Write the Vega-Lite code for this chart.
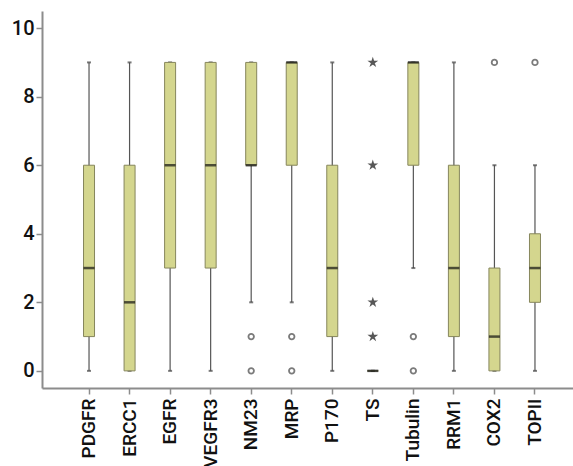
{
  "$schema": "https://vega.github.io/schema/vega-lite/v6.json",
  "width": 540,
  "height": 377,
  "autosize": {"type": "none"},
  "padding": {"left": 42, "top": 11, "right": 0, "bottom": 78},
  "background": "white",
  "config": {
    "view": {"stroke": null},
    "font": "Roboto",
    "axis": {"grid": false, "domainColor": "#8c8c8c", "domainWidth": 2, "tickColor": "#8c8c8c", "tickWidth": 1.5, "labelColor": "#111", "title": null}
  },
  "datasets": {
    "stats": [
      {"marker": "PDGFR", "min": 0, "q1": 1, "median": 3, "q3": 6, "max": 9},
      {"marker": "ERCC1", "min": 0, "q1": 0, "median": 2, "q3": 6, "max": 9},
      {"marker": "EGFR", "min": 0, "q1": 3, "median": 6, "q3": 9, "max": 9},
      {"marker": "VEGFR3", "min": 0, "q1": 3, "median": 6, "q3": 9, "max": 9},
      {"marker": "NM23", "min": 2, "q1": 6, "median": 6, "q3": 9, "max": 9},
      {"marker": "MRP", "min": 2, "q1": 6, "median": 9, "q3": 9, "max": 9},
      {"marker": "P170", "min": 0, "q1": 1, "median": 3, "q3": 6, "max": 9},
      {"marker": "TS", "min": 0, "q1": 0, "median": 0, "q3": 0, "max": 0},
      {"marker": "Tubulin", "min": 3, "q1": 6, "median": 9, "q3": 9, "max": 9},
      {"marker": "RRM1", "min": 0, "q1": 1, "median": 3, "q3": 6, "max": 9},
      {"marker": "COX2", "min": 0, "q1": 0, "median": 1, "q3": 3, "max": 6},
      {"marker": "TOPII", "min": 0, "q1": 2, "median": 3, "q3": 4, "max": 6}
    ],
    "outliers": [
      {"marker": "NM23", "value": 1, "kind": "outlier"},
      {"marker": "NM23", "value": 0, "kind": "outlier"},
      {"marker": "MRP", "value": 1, "kind": "outlier"},
      {"marker": "MRP", "value": 0, "kind": "outlier"},
      {"marker": "TS", "value": 9, "kind": "extreme"},
      {"marker": "TS", "value": 6, "kind": "extreme"},
      {"marker": "TS", "value": 2, "kind": "extreme"},
      {"marker": "TS", "value": 1, "kind": "extreme"},
      {"marker": "Tubulin", "value": 1, "kind": "outlier"},
      {"marker": "Tubulin", "value": 0, "kind": "outlier"},
      {"marker": "COX2", "value": 9, "kind": "outlier"},
      {"marker": "TOPII", "value": 9, "kind": "outlier"}
    ]
  },
  "encoding": {
    "x": {
      "field": "marker", "type": "nominal",
      "sort": ["PDGFR", "ERCC1", "EGFR", "VEGFR3", "NM23", "MRP", "P170", "TS", "Tubulin", "RRM1", "COX2", "TOPII"],
      "scale": {"paddingInner": 0, "paddingOuter": 0.66},
      "axis": {"labelAngle": -90, "labelPadding": 4, "tickSize": 6, "labelBaseline": "middle", "labelAlign": "right", "labelFontSize": 19, "labelFont": "Roboto", "labelFontWeight": 500}
    }
  },
  "layer": [
    {
      "data": {"name": "stats"},
      "mark": {"type": "rule", "color": "#555", "strokeWidth": 1.2},
      "encoding": {
        "y": {"field": "min", "type": "quantitative", "scale": {"domain": [-0.5, 10.5], "nice": false, "zero": false},
          "axis": {"values": [0, 2, 4, 6, 8, 10], "tickSize": 6, "labelPadding": 2, "domainColor": "#8c8c8c", "labelFontSize": 20, "labelFont": "Roboto", "labelFontWeight": 500}},
        "y2": {"field": "max"}
      }
    },
    {
      "data": {"name": "stats"},
      "mark": {"type": "tick", "color": "#444", "size": 4, "thickness": 2},
      "encoding": {"y": {"field": "min", "type": "quantitative"}}
    },
    {
      "data": {"name": "stats"},
      "mark": {"type": "tick", "color": "#444", "size": 4, "thickness": 2},
      "encoding": {"y": {"field": "max", "type": "quantitative"}}
    },
    {
      "data": {"name": "stats"},
      "mark": {"type": "bar", "size": 11, "fill": "#d4d68e", "stroke": "#86865c", "strokeWidth": 1},
      "encoding": {"y": {"field": "q1", "type": "quantitative"}, "y2": {"field": "q3"}}
    },
    {
      "data": {"name": "stats"},
      "mark": {"type": "tick", "color": "#111", "size": 11, "thickness": 2.5},
      "encoding": {"y": {"field": "median", "type": "quantitative"}}
    },
    {
      "data": {"name": "outliers"},
      "mark": {"type": "point", "strokeWidth": 1.8, "filled": false},
      "encoding": {
        "y": {"field": "value", "type": "quantitative"},
        "shape": {"field": "kind", "type": "nominal", "legend": null,
          "scale": {"domain": ["outlier", "extreme"], "range": ["circle", "M0,-1L0.2245,-0.309L0.951,-0.309L0.363,0.118L0.588,0.809L0,0.382L-0.588,0.809L-0.363,0.118L-0.951,-0.309L-0.2245,-0.309Z"]}},
        "fill": {"field": "kind", "type": "nominal", "legend": null, "scale": {"domain": ["outlier", "extreme"], "range": ["white", "#111"]}},
        "stroke": {"field": "kind", "type": "nominal", "legend": null, "scale": {"domain": ["outlier", "extreme"], "range": ["#444", "#111"]}},
        "size": {"field": "kind", "type": "nominal", "legend": null, "scale": {"domain": ["outlier", "extreme"], "range": [30, 30]}}
      }
    }
  ]
}
